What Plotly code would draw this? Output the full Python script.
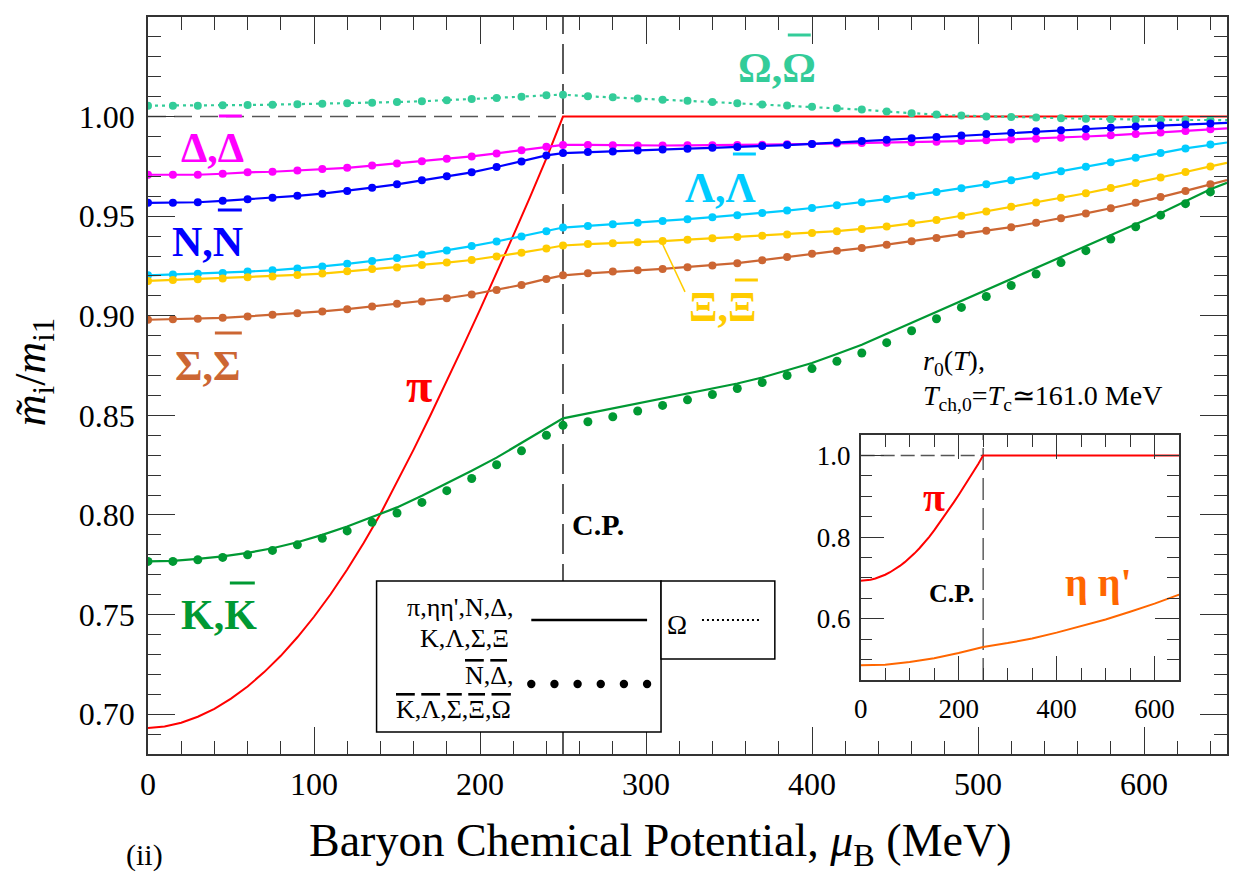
import plotly.graph_objects as go

# ---------------------------------------------------------------- data
# baryon chemical potential (MeV) of the computed points; 650 closes the curves
mu = [0, 15, 30, 45, 60, 75, 90, 105, 120, 135, 150, 165, 180, 195, 210, 225, 240,
      250, 265, 280, 295, 310, 325, 340, 355, 370, 385, 400, 415, 430, 445, 460, 475,
      490, 505, 520, 535, 550, 565, 580, 595, 610, 625, 640, 650]

omega = [1.0055, 1.0055, 1.0055, 1.0057, 1.0058, 1.0060, 1.0062, 1.0064, 1.0067, 1.0070,
         1.0073, 1.0077, 1.0082, 1.0088, 1.0093, 1.0100, 1.0107,
         1.0110, 1.0102, 1.0097, 1.0091, 1.0085, 1.0079, 1.0073, 1.0067, 1.0061, 1.0056,
         1.0049, 1.0042, 1.0035, 1.0025, 1.0017, 1.0010, 1.0005, 1.0001, 0.9998, 0.9995,
         0.9992, 0.9989, 0.9987, 0.9985, 0.9984, 0.9983, 0.9983, 0.9982]

delta = [0.9708, 0.9708, 0.9708, 0.9713, 0.9720, 0.9723, 0.9730, 0.9737, 0.9743, 0.9754,
         0.9765, 0.9776, 0.9788, 0.9800, 0.9815, 0.9831, 0.9848,
         0.9858, 0.9858, 0.9856, 0.9855, 0.9855, 0.9856, 0.9856, 0.9857, 0.9859, 0.9861,
         0.9863, 0.9865, 0.9867, 0.9869, 0.9871, 0.9874, 0.9877, 0.9881, 0.9885, 0.9889,
         0.9894, 0.9900, 0.9906, 0.9913, 0.9920, 0.9928, 0.9936, 0.9941]

nucleon = [0.9567, 0.9567, 0.9570, 0.9577, 0.9585, 0.9592, 0.9602, 0.9613, 0.9627, 0.9643,
           0.9660, 0.9680, 0.9700, 0.9720, 0.9747, 0.9775, 0.9805,
           0.9817, 0.9822, 0.9825, 0.9830, 0.9835, 0.9839, 0.9843, 0.9847, 0.9852, 0.9857,
           0.9863, 0.9870, 0.9877, 0.9884, 0.9891, 0.9898, 0.9905, 0.9912, 0.9919, 0.9926,
           0.9932, 0.9938, 0.9944, 0.9950, 0.9955, 0.9960, 0.9965, 0.9968]

lam = [0.9203, 0.9207, 0.9211, 0.9215, 0.9222, 0.9228, 0.9237, 0.9248, 0.9261, 0.9275,
       0.9290, 0.9308, 0.9328, 0.9350, 0.9373, 0.9398, 0.9425,
       0.9443, 0.9451, 0.9459, 0.9467, 0.9476, 0.9485, 0.9495, 0.9505, 0.9516, 0.9528,
       0.9541, 0.9555, 0.9570, 0.9586, 0.9603, 0.9621, 0.9640, 0.9660, 0.9681, 0.9703,
       0.9725, 0.9748, 0.9771, 0.9794, 0.9817, 0.9840, 0.9860, 0.9870]

xi = [0.9175, 0.9180, 0.9184, 0.9187, 0.9193, 0.9197, 0.9205, 0.9212, 0.9223, 0.9235,
      0.9243, 0.9255, 0.9267, 0.9280, 0.9297, 0.9317, 0.9338,
      0.9353, 0.9360, 0.9364, 0.9369, 0.9375, 0.9382, 0.9389, 0.9396, 0.9402, 0.9408,
      0.9416, 0.9425, 0.9436, 0.9448, 0.9464, 0.9481, 0.9502, 0.9524, 0.9547, 0.9569,
      0.9592, 0.9615, 0.9641, 0.9667, 0.9694, 0.9722, 0.9750, 0.9768]

sigma = [0.8980, 0.8983, 0.8985, 0.8990, 0.8997, 0.9005, 0.9013, 0.9022, 0.9033, 0.9047,
         0.9060, 0.9072, 0.9088, 0.9107, 0.9130, 0.9155, 0.9185,
         0.9203, 0.9213, 0.9222, 0.9228, 0.9235, 0.9244, 0.9253, 0.9264, 0.9279, 0.9295,
         0.9312, 0.9326, 0.9340, 0.9357, 0.9374, 0.9391, 0.9409, 0.9427, 0.9445, 0.9467,
         0.9490, 0.9514, 0.9540, 0.9567, 0.9596, 0.9627, 0.9660, 0.9681]

kaon = [0.7767, 0.7770, 0.7780, 0.7792, 0.7810, 0.7833, 0.7863, 0.7900, 0.7942, 0.7988,
        0.8038, 0.8097, 0.8158, 0.8222, 0.8288, 0.8363, 0.8438,
        0.8485, 0.8510, 0.8535, 0.8560, 0.8583, 0.8607, 0.8633, 0.8660, 0.8690, 0.8725,
        0.8763, 0.8808, 0.8855, 0.8910, 0.8965, 0.9020, 0.9075, 0.9130, 0.9185, 0.9240,
        0.9295, 0.9347, 0.9405, 0.9458, 0.9515, 0.9575, 0.9635, 0.9668]

antikaon = [0.7767, 0.7767, 0.7775, 0.7787, 0.7800, 0.7822, 0.7850, 0.7883, 0.7920, 0.7963,
            0.8010, 0.8063, 0.8122, 0.8183, 0.8252, 0.8322, 0.8400,
            0.8450, 0.8468, 0.8493, 0.8522, 0.8550, 0.8578, 0.8605, 0.8635, 0.8665, 0.8700,
            0.8735, 0.8772, 0.8813, 0.8865, 0.8925, 0.8985, 0.9042, 0.9097, 0.9152, 0.9210,
            0.9267, 0.9327, 0.9385, 0.9447, 0.9505, 0.9563, 0.9622]

mu_pi = [0, 10, 20, 30, 40, 50, 60, 70, 80, 90, 100, 110, 120, 130, 140, 150, 160, 170,
         180, 190, 200, 210, 220, 230, 240, 250, 650]
pion = [0.6930, 0.6938, 0.6957, 0.6987, 0.7027, 0.7078, 0.7139, 0.7211, 0.7293, 0.7386,
        0.7489, 0.7602, 0.7726, 0.7860, 0.8005, 0.8163, 0.8328, 0.8498, 0.8672, 0.8850,
        0.9031, 0.9215, 0.9402, 0.9593, 0.9790, 1.0000, 1.0000]

mu_eta = [0, 50, 100, 150, 200, 250, 300, 350, 400, 450, 500, 550, 600, 650]
eta = [0.486, 0.4875, 0.494, 0.5035, 0.516, 0.531, 0.5405, 0.5515, 0.566, 0.5815,
       0.598, 0.617, 0.637, 0.659]

MU_CP = 250  # critical point

# ---------------------------------------------------------------- styling
FONT = "Liberation Serif"
RED, TEAL, MAGENTA, BLUE = "#ff0000", "#33cc99", "#ff00ff", "#0000ff"
CYAN, GOLD, BROWN, GREEN, ORANGE = "#00ccff", "#ffcc00", "#cc6633", "#009933", "#ff6600"
AXIS = "#333333"

W, H = 1241, 874
L, R, T, B = 148, 12, 17, 120


def paper_x(px):
    return (px - L) / (W - L - R)


def paper_y(py):
    return (H - B - py) / (H - T - B)


fig = go.Figure()

fig.add_trace(go.Scatter(x=mu_pi, y=pion, mode="lines",
                         line=dict(color=RED, width=2)))


def with_dots(vals, color, dash="solid", msize=8):
    fig.add_trace(go.Scatter(x=mu, y=vals, mode="lines",
                             line=dict(color=color, width=2.2, dash=dash)))
    fig.add_trace(go.Scatter(x=mu[:-1], y=vals[:-1], mode="markers",
                             marker=dict(color=color, size=msize, line=dict(width=0))))


with_dots(omega, TEAL, dash="3px,4px")
with_dots(delta, MAGENTA)
with_dots(nucleon, BLUE)
with_dots(lam, CYAN)
with_dots(xi, GOLD)
with_dots(sigma, BROWN)

fig.add_trace(go.Scatter(x=mu, y=kaon, mode="lines", line=dict(color=GREEN, width=2.2)))
fig.add_trace(go.Scatter(x=mu[:-1], y=antikaon, mode="markers",
                         marker=dict(color=GREEN, size=9, line=dict(width=0))))

# inset: pion and eta/eta'
fig.add_trace(go.Scatter(x=mu_pi, y=pion, mode="lines", xaxis="x2", yaxis="y2",
                         line=dict(color=RED, width=2)))
fig.add_trace(go.Scatter(x=mu_eta, y=eta, mode="lines", xaxis="x2", yaxis="y2",
                         line=dict(color=ORANGE, width=2)))

axis_common = dict(showline=True, linecolor=AXIS, linewidth=1.6, mirror="allticks",
                   ticks="inside", tickcolor=AXIS, tickwidth=1.4, showgrid=False,
                   zeroline=False, tickfont=dict(family=FONT, size=32, color="black"))
inset_font = dict(family=FONT, size=27, color="black")

fig.update_layout(
    width=W, height=H, margin=dict(l=L, r=R, t=T, b=B),
    paper_bgcolor="white", plot_bgcolor="white", showlegend=False,
    xaxis=dict(range=[0, 650], tickvals=[0, 100, 200, 300, 400, 500, 600], ticklen=27,
               minor=dict(dtick=20, ticklen=13, ticks="inside", tickcolor=AXIS, tickwidth=1.4),
               ticklabelstandoff=1, **axis_common),
    yaxis=dict(range=[0.68, 1.05], tickvals=[0.70, 0.75, 0.80, 0.85, 0.90, 0.95, 1.00, 1.05],
               tickformat=".2f", ticklen=27,
               minor=dict(dtick=0.01, ticklen=13, ticks="inside", tickcolor=AXIS, tickwidth=1.4),
               ticklabelstandoff=5, **axis_common),
    xaxis2=dict(domain=[paper_x(862), paper_x(1181)], anchor="y2", range=[0, 650],
                tickvals=[0, 200, 400, 600], ticklen=24,
                minor=dict(dtick=50, ticklen=12, ticks="inside", tickcolor=AXIS, tickwidth=1.4),
                ticklabelstandoff=4, **{**axis_common, "tickfont": inset_font}),
    yaxis2=dict(domain=[paper_y(680), paper_y(435)], anchor="x2", range=[0.45, 1.05],
                tickvals=[0.6, 0.8, 1.0], tickformat=".1f", ticklen=24,
                minor=dict(dtick=0.05, ticklen=12, ticks="inside", tickcolor=AXIS, tickwidth=1.4),
                ticklabelstandoff=3, **{**axis_common, "tickfont": inset_font}),
)

shapes = [
    # unity and critical-point guides, main panel
    dict(type="line", xref="x", yref="y", x0=0, x1=MU_CP, y0=1, y1=1,
         line=dict(color="#555555", width=1.5, dash="18px,8px"), layer="below"),
    dict(type="line", xref="x", yref="y", x0=MU_CP, x1=MU_CP, y0=0.68, y1=1.05,
         line=dict(color="black", width=1.3, dash="30px,10px"), layer="below"),
    # same guides, inset
    dict(type="line", xref="x2", yref="y2", x0=0, x1=MU_CP, y0=1, y1=1,
         line=dict(color="#555555", width=1.5, dash="14px,6px"), layer="below"),
    dict(type="line", xref="x2", yref="y2", x0=MU_CP, x1=MU_CP, y0=0.45, y1=1.05,
         line=dict(color="#444444", width=1.3, dash="22px,8px"), layer="below"),
    # pointer from the Xi curve to its label
    dict(type="line", xref="x", yref="y", x0=309.7, x1=323.5, y0=0.9365, y1=0.912,
         line=dict(color=GOLD, width=1.5)),
    # line-style key
    dict(type="rect", xref="paper", yref="paper", x0=paper_x(377), x1=paper_x(662),
         y0=paper_y(732), y1=paper_y(581), line=dict(color="black", width=1.5),
         fillcolor="white", layer="above"),
    dict(type="rect", xref="paper", yref="paper", x0=paper_x(662), x1=paper_x(776),
         y0=paper_y(659), y1=paper_y(581), line=dict(color="black", width=1.5),
         fillcolor="white", layer="above"),
    dict(type="line", xref="paper", yref="paper", x0=paper_x(532), x1=paper_x(648),
         y0=paper_y(620), y1=paper_y(620), line=dict(color="black", width=2.5), layer="above"),
    dict(type="line", xref="paper", yref="paper", x0=paper_x(703), x1=paper_x(763),
         y0=paper_y(620), y1=paper_y(620), line=dict(color="black", width=2, dash="2px,3px"),
         layer="above"),
]
for k in range(6):
    cx = paper_x(532 + k * 23.2)
    cy = paper_y(684)
    shapes.append(dict(type="circle", xref="paper", yref="paper", xsizemode="pixel",
                       ysizemode="pixel", xanchor=cx, yanchor=cy, x0=-4.2, x1=4.2,
                       y0=-4.2, y1=4.2, fillcolor="black", line=dict(width=0),
                       layer="above"))

# antiparticle bars over the second symbol of each species label (x from, x to, y)
label_bars = [
    (789, 812, 35, TEAL),
    (219, 242, 116, MAGENTA),
    (218, 242, 210, BLUE),
    (734, 757, 154, CYAN),
    (736, 759, 280, GOLD),
    (215, 242, 333, BROWN),
    (230, 255, 583, GREEN),
]
for x0, x1, yb, col in label_bars:
    shapes.append(dict(type="line", xref="paper", yref="paper", x0=paper_x(x0),
                       x1=paper_x(x1), y0=paper_y(yb), y1=paper_y(yb),
                       line=dict(color=col, width=3), layer="above"))
fig.update_layout(shapes=shapes)


def bar(s):
    return "<span style='text-decoration:overline'>" + s + "</span>"


def note(text, x, y, size, color="black", xref="x", yref="y", xanchor="center",
         yanchor="middle", angle=0):
    fig.add_annotation(text=text, x=x, y=y, xref=xref, yref=yref, showarrow=False,
                       xanchor=xanchor, yanchor=yanchor, textangle=angle,
                       font=dict(family=FONT, size=size, color=color))


# species labels
note("<b>Ω,Ω</b>", 378.8, 1.0244, 42, TEAL)
note("<b>Δ,Δ</b>", 39, 0.9842, 42, MAGENTA)
note("<b>N,N</b>", 36, 0.9370, 42, BLUE)
note("<b>Λ,Λ</b>", 344.6, 0.9642, 42, CYAN)
note("<b>Ξ,Ξ</b>", 345.8, 0.9044, 42, GOLD)
note("<b>Σ,Σ</b>", 36, 0.8748, 42, BROWN)
note("<b>K,K</b>", 42.7, 0.7498, 42, GREEN)
note("<b>π</b>", 163, 0.8648, 48, RED)
note("<b>C.P.</b>", 271, 0.795, 30)
note("<i>r</i><sub>0</sub>(<i>T</i>),", paper_x(922), paper_y(362), 28,
     xref="paper", yref="paper", xanchor="left")
note("<i>T</i><sub>ch,0</sub>=<i>T</i><sub>c</sub>≃161.0 MeV", paper_x(922), paper_y(397), 28,
     xref="paper", yref="paper", xanchor="left")

# inset labels
note("<b>π</b>", 149, 0.896, 40, RED, xref="x2", yref="y2")
note("<b>η η'</b>", 485, 0.689, 40, ORANGE, xref="x2", yref="y2")
note("<b>C.P.</b>", 185, 0.662, 26, xref="x2", yref="y2")

# key texts
note("π,ηη',N,Δ,", paper_x(517), paper_y(607), 26, xref="paper", yref="paper", xanchor="right")
note("K,Λ,Σ,Ξ", paper_x(512), paper_y(638), 26, xref="paper", yref="paper", xanchor="right")
note(bar("N") + "," + bar("Δ") + ",", paper_x(517), paper_y(675), 26, xref="paper",
     yref="paper", xanchor="right")
note(bar("K") + "," + bar("Λ") + "," + bar("Σ") + "," + bar("Ξ") + "," + bar("Ω"),
     paper_x(514), paper_y(709), 26, xref="paper", yref="paper", xanchor="right")
note("Ω", paper_x(678), paper_y(625), 27, xref="paper", yref="paper")

# axis titles
note("Baryon Chemical Potential, <i>μ</i><sub>B</sub> (MeV)", paper_x(661), paper_y(844), 46,
     xref="paper", yref="paper")
note("(ii)", paper_x(144), paper_y(855), 30, xref="paper", yref="paper")
note("<i>m̃</i><sub>i</sub>/<i>m</i><sub>i1</sub>", paper_x(33), paper_y(372), 44,
     xref="paper", yref="paper", angle=-90)

fig.write_html("out.html")
